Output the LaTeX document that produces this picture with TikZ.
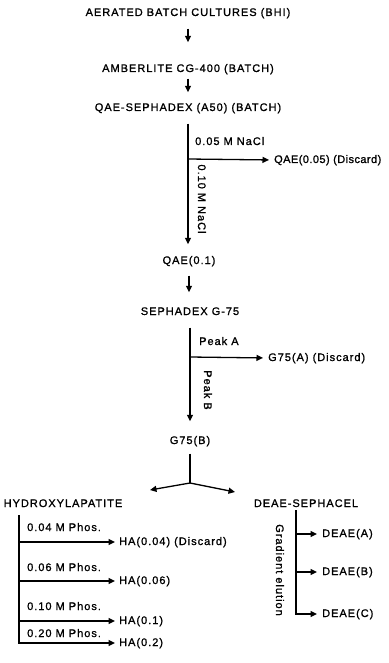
\documentclass[tikz,border=0pt]{standalone}
\usepackage{fontspec}
\newfontfamily\lblfont{Liberation Sans}[LetterSpace=9,FakeBold=1.1]
\newfontfamily\tightlblfont{Liberation Sans}[LetterSpace=4,FakeBold=1.1]
\usetikzlibrary{arrows.meta}
\tikzset{
  lbl/.style={font=\lblfont\fontsize{11pt}{13pt}\selectfont, inner sep=0pt, text height=8pt, text depth=2pt},
  tightlbl/.style={lbl, font=\tightlblfont\fontsize{11pt}{13pt}\selectfont},
  arr/.style={-{Triangle[length=6.5pt,width=6pt]}, line width=1.3pt},
  ln/.style={line width=1.3pt},
}
\begin{document}
\begin{tikzpicture}[x=1pt,y=-1pt]
\useasboundingbox (0,0) rectangle (388,663);
% main column
\node[lbl] (t1) at (188,13) {AERATED BATCH CULTURES (BHI)};
\node[lbl] (t2) at (188,69) {AMBERLITE CG-400 (BATCH)};
\node[lbl] (t3) at (188,108) {QAE-SEPHADEX (A50) (BATCH)};
\node[lbl] (q1) at (189,261) {QAE(0.1)};
\node[lbl] (s1) at (190,312) {SEPHADEX G-75};
\node[lbl] (g75b) at (190,441) {G75(B)};
\draw[arr, shorten <=10.5pt, shorten >=21.5pt] (t1.south) -- (t2.north);
\draw[arr, shorten <=4.5pt, shorten >=10.5pt] (t2.south) -- (t3.north);
% QAE branch
\node[tightlbl, anchor=west] (q05) at (274,160) {QAE(0.05) (Discard)};
\node[lbl, anchor=west] (n05) at (195,142) {0.05 M NaCl};
\node[lbl, rotate=-90] (n10) at (201,199) {0.10 M NaCl};
\coordinate (b1) at (188,159);
\draw[arr, shorten <=10.5pt, shorten >=11.5pt] (t3.south) -- (t3.south |- q1.north);
\draw[arr, shorten >=5pt] (b1) -- (q05.west);
\draw[arr, shorten <=9.5pt, shorten >=14.5pt] (q1.south) -- (q1.south |- s1.north);
% Sephadex branch
\node[lbl, anchor=west] (g75a) at (268,358) {G75(A) (Discard)};
\node[lbl, anchor=west] (pka) at (199,342) {Peak A};
\node[lbl, rotate=-90] (pkb) at (207,390) {Peak B};
\coordinate (b2) at (190,357);
\draw[arr, shorten <=10.5pt, shorten >=14.5pt] (s1.south) -- (s1.south |- g75b.north);
\draw[arr, shorten >=5pt] (b2) -- (g75a.west);
% split
\coordinate (J) at (190,483);
\coordinate (LT) at (150,490);
\coordinate (RT) at (235,492);
\draw[ln, shorten <=7.5pt] (g75b.south) -- (J);
\draw[arr] (J) -- (LT);
\draw[arr] (J) -- (RT);
\node[lbl] (hyd) at (63,504) {HYDROXYLAPATITE};
\node[lbl] (deae) at (306,504) {DEAE-SEPHACEL};
% hydroxylapatite column
\coordinate (L0) at (19,515);
\node[lbl, anchor=west] (ha1) at (119,542) {HA(0.04) (Discard)};
\node[lbl, anchor=west] (ha2) at (119,581) {HA(0.06)};
\node[lbl, anchor=west] (ha3) at (119,621) {HA(0.1)};
\node[lbl, anchor=west] (ha4) at (119,643) {HA(0.2)};
\node[lbl, anchor=west] (p1) at (27,528) {0.04 M Phos.};
\node[lbl, anchor=west] (p2) at (27,568) {0.06 M Phos.};
\node[lbl, anchor=west] (p3) at (27,607) {0.10 M Phos.};
\node[lbl, anchor=west] (p4) at (27,634) {0.20 M Phos.};
\draw[arr, shorten >=4pt] (L0) |- (ha4.west);
\draw[arr, shorten >=4pt] (L0 |- ha1.west) -- (ha1.west);
\draw[arr, shorten >=4pt] (L0 |- ha2.west) -- (ha2.west);
\draw[arr, shorten >=4pt] (L0 |- ha3.west) -- (ha3.west);
% DEAE column
\coordinate (R0) at (296,510);
\node[lbl, anchor=west] (da) at (322,534) {DEAE(A)};
\node[lbl, anchor=west] (db) at (322,572) {DEAE(B)};
\node[lbl, anchor=west] (dc) at (322,614) {DEAE(C)};
\node[lbl, rotate=-90] (grad) at (279,570) {Gradient elution};
\draw[arr, shorten >=5pt] (R0) |- (dc.west);
\draw[arr, shorten >=5pt] (R0 |- da.west) -- (da.west);
\draw[arr, shorten >=5pt] (R0 |- db.west) -- (db.west);
\end{tikzpicture}
\end{document}
